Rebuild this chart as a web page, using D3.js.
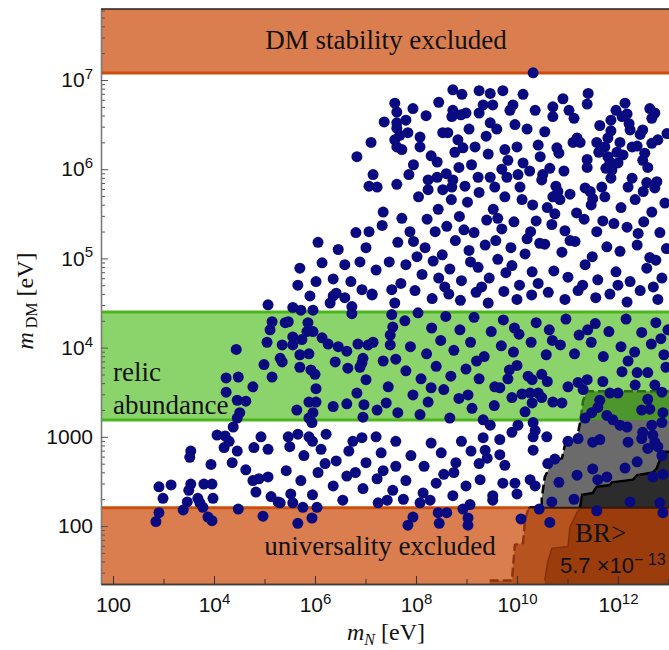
<!DOCTYPE html>
<html lang="en">
<head>
<meta charset="utf-8">
<title>D3: DM mass scan</title>
<script src="https://cdn.jsdelivr.net/npm/d3@7"></script>
<style>
  body { margin: 0; background: #fff; }
  .serif { font-family: "Liberation Serif", "Times New Roman", serif; fill: #111; }
  .sans { font-family: "Liberation Sans", Arial, sans-serif; fill: #111; }
</style>
</head>
<body>
<div id="chart"></div>
<script>
// limits on m_DM [eV]
const stabilityLimit = 1.2e7;
const relicBand = [1540, 25000];
const universalityLimit = 160;

// tick decades
const xLabelExps = [2, 4, 6, 8, 10, 12];
const xOtherExps = [3, 5, 7, 9, 11, 13];
const yLabelExps = [2, 3, 4, 5, 6, 7];

// contours, [log10 mN, log10 mDM]
const dashedContour = [
  [9.46,1.0],[9.46,1.39],[9.90,1.39],[9.92,1.53],[9.96,1.79],[10.12,1.81],[10.16,2.07],
  [10.22,2.18],[10.22,2.21],[10.49,2.21],[10.49,2.31],[10.55,2.55],[10.69,2.71],[10.89,2.76],
  [10.95,2.91],[11.19,2.99],[11.25,3.16],[11.31,3.41],[11.39,3.51],[13.6,3.51]
];
const brContour = [
  [10.55,1.0],[10.55,1.39],[10.61,1.60],[10.69,1.75],[11.01,1.77],[11.05,1.99],[11.19,2.15],
  [11.25,2.21],[11.29,2.35],[11.50,2.37],[11.58,2.44],[11.84,2.46],[11.88,2.49],[12.30,2.52],
  [12.38,2.57],[12.69,2.60],[12.77,2.65],[12.83,2.74],[12.87,2.83],[13.6,2.84]
];

// scan points, [log10 mN, log10 mDM]
const scanPoints = [
  [10.32,7.08],
  [8.73,6.89],[8.91,6.84],[9.25,6.88],[9.47,6.85],[9.72,6.88],[10.12,6.84],
  [7.58,6.74],[7.62,6.64],[7.94,6.68],[7.37,6.53],[7.62,6.52],[7.62,6.46],
  [8.73,6.66],[8.71,6.59],[8.89,6.61],[8.99,6.63],[9.25,6.63],[9.33,6.72],[9.52,6.72],[9.92,6.72],
  [9.86,6.66],[9.47,6.52],[9.96,6.50],[10.20,6.45],
  [7.11,6.30],[7.58,6.33],[7.68,6.38],[7.84,6.41],[8.08,6.36],[7.62,6.25],[7.72,6.22],[8.08,6.25],
  [8.53,6.41],[8.63,6.41],[8.83,6.33],[8.93,6.24],[9.17,6.25],[9.39,6.37],[8.77,6.19],[9.43,6.17],
  [9.76,6.22],[9.82,6.10],[10.12,6.07],[6.83,6.14],[8.42,6.08],[8.85,6.02],
  [7.15,5.94],[7.07,5.81],[7.23,5.80],[7.62,5.83],[7.86,5.94],[8.24,5.88],[8.42,5.91],[8.73,5.88],
  [8.71,5.80],[8.97,5.81],[9.23,5.91],[9.47,5.91],[9.56,5.80],[9.80,5.91],[10.02,5.94],[10.06,5.80],
  [8.24,5.77],[8.53,5.77],
  [7.80,6.55],[8.20,6.60],[8.45,6.75],[9.05,6.45],[9.60,6.45],[10.00,6.25],[8.30,6.15],[9.10,6.05],
  [9.70,6.00],[7.95,6.05],[8.60,5.95],[10.25,5.98],
  [11.41,6.85],[11.39,6.73],[10.91,6.79],[10.71,6.70],[10.71,6.59],[11.03,6.66],[11.13,6.57],
  [12.14,6.74],[11.96,6.66],[12.18,6.62],[12.08,6.59],[12.63,6.68],[12.73,6.63],[12.67,6.57],
  [11.86,6.55],[11.64,6.49],[12.22,6.51],[12.24,6.44],[11.86,6.43],[12.44,6.39],[12.49,6.44],
  [12.97,6.40],[10.55,6.42],[11.19,6.35],[11.25,6.30],[11.11,6.30],[11.58,6.30],[12.04,6.30],
  [11.80,6.35],[11.74,6.25],[11.62,6.19],[12.28,6.25],[12.38,6.26],[12.67,6.29],[12.79,6.33],
  [10.79,6.24],[10.83,6.18],[11.98,6.19],[12.10,6.16],[11.80,6.14],[11.39,6.11],[11.39,6.02],
  [11.84,6.08],[12.00,6.07],[12.53,6.18],[12.49,6.10],[12.59,6.02],[10.65,6.01],[10.93,5.98],
  [11.76,6.01],[11.88,5.99],[10.46,6.14],[10.51,5.94],[10.49,5.88],[10.77,5.81],[10.81,5.75],
  [11.86,5.90],[12.28,5.90],[12.20,5.80],[12.57,5.85],[12.77,5.86],[12.73,5.79],[11.35,5.79],
  [11.45,5.75],[11.68,5.80],[11.50,5.67],[10.71,5.69],[10.36,6.66],[10.42,6.27],
  [6.06,5.18],[6.46,5.10],[6.14,4.95],[6.59,4.93],[6.36,4.77],[6.02,4.74],[5.66,4.70],[5.90,4.58],
  [6.36,4.58],[6.71,4.74],[6.89,4.96],[7.01,5.12],[7.35,5.52],[7.33,5.37],[7.07,5.30],[7.64,5.18],
  [7.88,5.30],[6.81,5.29],[7.21,4.87],[7.47,4.96],[7.52,4.65],[7.13,4.59],[5.70,4.89],
  [8.05,5.69],[8.44,5.55],[8.70,5.66],[9.02,5.63],[9.25,5.74],[9.53,5.55],[9.76,5.69],[10.10,5.66],[10.31,5.60],
  [8.22,5.44],[8.61,5.36],[8.86,5.47],[9.15,5.29],[9.40,5.43],[9.70,5.33],[9.94,5.41],[10.27,5.30],
  [7.95,5.19],[8.18,5.12],[8.52,5.04],[8.78,5.20],[9.05,5.09],[9.37,5.15],[9.62,4.99],[9.88,5.12],[10.16,5.05],[10.45,5.17],
  [7.80,4.93],[8.12,4.82],[8.34,4.97],[8.67,4.88],[8.90,4.75],[9.23,4.90],[9.45,4.78],[9.78,4.84],[10.05,4.70],[10.30,4.85],
  [7.98,4.64],[8.32,4.55],[8.57,4.68],[8.88,4.53],[9.19,4.62],[9.43,4.50],[9.74,4.63],[10.00,4.54],[10.29,4.59],
  [7.72,5.45],[8.38,5.30],[8.95,5.32],[9.58,5.20],[10.20,5.22],[8.02,5.02],[8.65,4.60],[9.30,4.68],
  [9.90,4.92],[10.42,4.72],[8.45,4.78],[9.08,4.96],[9.62,5.45],[10.38,5.42],[7.70,4.72],
  [10.60,5.57],[10.85,5.66],[11.18,5.51],[11.47,5.60],[11.74,5.69],[12.06,5.57],[12.34,5.66],[12.67,5.52],[12.93,5.62],
  [10.69,5.38],[10.95,5.31],[11.33,5.44],[11.58,5.30],[11.92,5.39],[12.18,5.35],[12.51,5.41],[12.83,5.29],
  [10.55,5.16],[10.89,5.07],[11.15,5.19],[11.49,5.02],[11.78,5.13],[12.04,5.08],[12.38,5.15],[12.63,5.01],[12.96,5.11],
  [10.73,4.86],[11.01,4.79],[11.35,4.93],[11.60,4.76],[11.96,4.85],[12.24,4.74],[12.57,4.89],[12.87,4.78],
  [10.62,4.62],[10.95,4.54],[11.21,4.64],[11.56,4.56],[11.84,4.60],[12.18,4.51],[12.44,4.64],[12.79,4.54],
  [10.75,5.50],[11.05,5.20],[11.70,5.42],[12.40,5.28],[12.75,4.98],[11.30,4.70],[12.00,4.70],[12.70,4.68],
  [11.05,5.72],[12.50,5.75],
  [5.07,4.48],[5.56,4.45],[5.72,4.42],[5.96,4.42],[6.30,4.50],[6.42,4.61],[6.59,4.56],[6.73,4.46],
  [6.73,4.38],[6.93,4.65],[7.13,4.60],[7.58,4.50],[7.52,4.37],
  [5.15,4.29],[5.11,4.20],[5.41,4.28],[5.47,4.29],[5.86,4.28],[5.84,4.18],[5.96,4.18],[5.56,4.12],
  [5.74,4.09],[5.56,4.03],[5.35,4.03],[5.05,4.06],[6.14,4.11],[6.26,4.04],[6.46,4.01],[6.63,3.96],
  [6.85,4.04],[7.05,4.03],[7.15,4.06],[7.49,4.14],[7.54,4.23],[7.49,4.03],
  [4.44,3.98],[5.31,3.88],[5.35,3.84],[5.70,3.92],[5.88,3.93],[6.40,3.84],[6.95,3.88],[6.93,3.83],
  [6.89,3.78],[6.65,3.77],[7.35,3.85],[7.60,3.87],
  [4.99,3.81],[5.70,3.78],[5.92,3.75],[6.00,3.70],[5.15,3.67],[4.24,3.66],[4.48,3.67],[4.77,3.56],
  [4.24,3.50],[7.01,3.64],[7.45,3.56],[6.02,3.54],[6.83,3.49],[4.46,3.41],[4.63,3.40],[5.88,3.39],
  [6.02,3.39],[5.64,3.30],[6.36,3.34],[6.63,3.37],[6.97,3.36],[7.23,3.30],[7.41,3.38],[7.64,3.27],
  [4.51,3.27],[4.46,3.21],[5.96,3.27],[5.88,3.21],[6.95,3.22],[4.38,3.11],[5.94,3.16],
  [4.06,3.02],[4.22,3.01],[4.93,3.00],[5.47,3.00],[5.66,3.03],[5.88,3.00],[6.22,3.03],[6.93,2.99],[7.21,3.00],
  [7.78,4.30],[8.04,4.39],[8.31,4.22],[8.59,4.35],[8.87,4.20],[9.15,4.34],[9.49,4.18],[9.73,4.31],
  [10.04,4.15],[10.38,4.28],[10.64,4.20],[10.97,4.32],[11.23,4.14],[11.55,4.27],[11.82,4.18],[12.16,4.32],
  [12.47,4.17],[12.75,4.28],[12.99,4.20],
  [7.89,4.01],[8.21,3.93],[8.49,4.08],[8.75,3.97],[9.08,4.06],[9.35,3.90],[9.69,4.02],[9.93,3.95],
  [10.28,4.06],[10.58,3.92],[10.86,4.03],[11.14,3.93],[11.47,4.06],[11.71,3.90],[12.06,4.01],[12.33,3.95],
  [12.66,4.04],[12.91,3.92],
  [9.95,4.22],[10.70,4.08],[11.40,4.20],[12.20,3.85],[12.85,4.10],[9.20,3.85],[10.00,3.80],[10.60,3.62],
  [11.70,3.62],[12.95,3.78],[8.30,3.55],[9.55,3.35],[9.85,3.75],
  [7.80,3.74],[8.10,3.65],[8.40,3.79],[8.69,3.68],[8.99,3.76],[9.25,3.65],[7.94,3.47],[8.24,3.39],
  [8.55,3.53],[8.85,3.43],[9.11,3.32],[8.08,3.25],[8.67,3.21],[9.03,3.47],
  [9.82,3.65],[10.22,3.68],[10.49,3.70],[10.30,3.64],[9.56,3.56],[9.66,3.55],[9.90,3.44],[10.10,3.48],
  [10.26,3.49],[10.42,3.49],[10.30,3.38],[10.16,3.28],[10.49,3.44],[10.71,3.39],[10.89,3.38],[11.01,3.56],
  [11.21,3.61],[11.31,3.53],[11.39,3.64],[12.08,3.73],[12.38,3.72],[12.59,3.72],[12.34,3.58],[12.73,3.58],
  [12.87,3.50],[11.84,3.49],[12.00,3.49],[11.64,3.41],[11.60,3.33],[11.48,3.27],[11.35,3.21],[11.78,3.24],
  [11.90,3.19],[12.04,3.13],[12.18,3.11],[12.47,3.30],[12.59,3.42],[12.63,3.31],[12.89,3.27],[12.87,3.16],
  [12.67,3.13],[12.49,3.05],[12.47,2.98],[12.69,3.02],[12.73,2.94],[12.79,2.89],[12.87,2.79],[12.59,2.87],
  [12.20,2.94],[12.38,2.72],[12.14,2.65],[12.69,2.55],[12.89,2.58],[11.50,2.94],[11.64,2.97],[11.50,2.64],
  [11.78,2.55],[11.60,2.52],[11.19,2.57],[10.83,2.49],[10.69,2.27],[11.13,2.30],[12.24,2.27],[12.83,2.26],
  [11.58,2.17],[10.44,2.19],[10.08,2.08],[10.65,2.04],
  [9.33,3.19],[9.47,3.13],[10.02,3.13],[10.32,3.16],[10.36,3.07],[10.32,3.00],[9.90,3.05],[9.66,2.97],
  [10.59,3.00],[9.33,2.99],[9.37,2.85],[9.41,2.76],[9.66,2.80],[9.76,2.68],[10.32,2.85],[10.75,2.75],
  [10.61,2.70],[9.96,2.48],[9.72,2.48],[10.26,2.52],[10.36,2.45],[10.00,2.36],[9.52,2.34],[9.27,2.52],
  [11.01,2.95],[11.21,2.98],
  [4.30,2.95],[4.20,2.88],[4.46,2.84],[4.79,2.88],[5.07,2.86],[3.54,2.84],[3.52,2.77],[3.94,2.69],
  [4.36,2.71],[4.63,2.63],[4.77,2.51],[4.89,2.53],[5.07,2.55],[4.83,2.38],[5.13,2.33],[5.27,2.27],
  [2.91,2.44],[3.15,2.46],[3.54,2.47],[3.50,2.40],[3.80,2.47],[3.96,2.47],[2.99,2.31],[3.98,2.31],
  [3.68,2.31],[3.47,2.27],[3.72,2.26],[3.78,2.21],[3.39,2.18],[2.91,2.15],[4.48,2.19],[3.88,2.10],
  [4.97,2.11],[2.85,2.05],[3.96,2.06],
  [5.50,2.89],[5.78,2.79],[6.12,2.86],[6.42,2.73],[6.67,2.84],[7.01,2.71],[7.31,2.82],[7.60,2.67],
  [7.90,2.79],[8.16,2.67],[8.50,2.82],[8.79,2.71],[9.09,2.84],[5.43,2.62],[5.72,2.51],[6.06,2.60],
  [6.36,2.45],[6.63,2.56],[6.95,2.42],[7.23,2.53],[7.54,2.40],[7.80,2.51],[8.14,2.37],[8.40,2.48],
  [8.73,2.34],[8.99,2.45],[5.52,2.36],[6.55,2.29],[7.43,2.29],
  [5.95,2.95],[6.75,2.95],[7.60,2.95],[8.30,2.93],[8.90,2.95],[6.20,2.70],[7.35,2.62],[8.55,2.58],
  [6.80,2.60],[5.95,2.35],[7.75,2.30],[8.75,2.60],[9.25,2.70],
  [5.66,2.03],[5.94,2.09],[6.04,2.21],[5.76,2.21],[5.56,2.26],[5.31,2.26],[7.25,2.26],[7.84,2.01],
  [7.94,2.10],[8.08,2.26],[8.28,2.29],[8.46,2.03],[8.44,2.15],[8.61,2.15],[8.93,2.19],[9.07,2.24],
  [9.03,2.09],[9.03,2.01],[9.52,2.29],[12.89,2.15]
];

const W = 669, H = 650;
const plot = { left: 101, right: 672, top: 9, bottom: 584 };

const x = d3.scaleLog()
  .domain([Math.pow(10, 1.762), Math.pow(10, 13.07)])
  .range([plot.left, plot.right]);
const y = d3.scaleLog()
  .domain([Math.pow(10, 1.35), Math.pow(10, 7.796)])
  .range([plot.bottom, plot.top]);

const svg = d3.select("#chart").append("svg")
  .attr("width", W).attr("height", H)
  .style("display", "block");

const defs = svg.append("defs");
function clipRect(id, y0, y1) {
  defs.append("clipPath").attr("id", id).append("rect")
    .attr("x", plot.left).attr("y", y0)
    .attr("width", plot.right - plot.left).attr("height", y1 - y0);
}
clipRect("clip-plot", plot.top, plot.bottom);
clipRect("clip-white", y(relicBand[0]), y(universalityLimit));
clipRect("clip-green", y(relicBand[1]), y(relicBand[0]));
clipRect("clip-below", y(universalityLimit), plot.bottom);

const g = svg.append("g").attr("clip-path", "url(#clip-plot)");

// bands
function band(lo, hi, fill) {
  g.append("rect")
    .attr("x", plot.left).attr("width", plot.right - plot.left)
    .attr("y", y(hi)).attr("height", y(lo) - y(hi))
    .attr("fill", fill);
}
band(stabilityLimit, 1e9, "#db7e4f");
band(relicBand[0], relicBand[1], "#8bd46b");
band(1, universalityLimit, "#db7e4f");

function hline(v, color, w) {
  g.append("line")
    .attr("x1", plot.left).attr("x2", plot.right)
    .attr("y1", y(v)).attr("y2", y(v))
    .attr("stroke", color).attr("stroke-width", w);
}
hline(stabilityLimit, "#cc4e0e", 3);
hline(relicBand[0], "#4db51e", 3);
hline(relicBand[1], "#4db51e", 3);
hline(universalityLimit, "#cc4e0e", 3);

// exclusion contours
const line = d3.line().x(d => x(Math.pow(10, d[0]))).y(d => y(Math.pow(10, d[1])));
const outline = pts => line(pts.concat([[13.6, 1.0]])) + "Z";
const edge = pts => line(pts.slice(1));

function region(pts, parts) {
  parts.forEach(p => {
    g.append("g").attr("clip-path", `url(#${p.clip})`)
      .append("path").attr("d", outline(pts)).attr("fill", p.fill);
  });
}
function regionEdge(pts, parts) {
  parts.forEach(p => {
    g.append("g").attr("clip-path", `url(#${p.clip})`)
      .append("path").attr("d", edge(pts))
      .attr("fill", "none").attr("stroke", p.stroke)
      .attr("stroke-width", p.width)
      .attr("stroke-dasharray", p.dash || null);
  });
}

region(dashedContour, [
  { clip: "clip-white", fill: "#6b6b6b" },
  { clip: "clip-green", fill: "#4d962b" },
  { clip: "clip-below", fill: "#b6531e" }
]);
region(brContour, [
  { clip: "clip-white", fill: "#2c2c2c" },
  { clip: "clip-below", fill: "#9b3c0c" }
]);
// universality line where it crosses the contours
defs.append("clipPath").attr("id", "clip-dashed").append("path").attr("d", outline(dashedContour));
g.append("g").attr("clip-path", "url(#clip-dashed)")
  .append("line")
  .attr("x1", plot.left).attr("x2", plot.right)
  .attr("y1", y(universalityLimit)).attr("y2", y(universalityLimit))
  .attr("stroke", "#3a1606").attr("stroke-width", 2);

regionEdge(dashedContour, [
  { clip: "clip-white", stroke: "#000", width: 2.5, dash: "9,4" },
  { clip: "clip-green", stroke: "#2c6a12", width: 2.5, dash: "9,4" },
  { clip: "clip-below", stroke: "#8a3410", width: 2.5, dash: "9,4" }
]);
regionEdge(brContour, [
  { clip: "clip-white", stroke: "#000", width: 2.5 },
  { clip: "clip-below", stroke: "#83300a", width: 1.5 }
]);

// scan points
g.append("g").selectAll("circle")
  .data(scanPoints)
  .join("circle")
  .attr("cx", d => x(Math.pow(10, d[0])))
  .attr("cy", d => y(Math.pow(10, d[1])))
  .attr("r", 5.5)
  .attr("fill", "#0a0a80");

// region labels
function label(txt, px, py, anchor) {
  return svg.append("text").attr("class", "serif")
    .attr("x", px).attr("y", py)
    .attr("font-size", 27)
    .attr("text-anchor", anchor || "start")
    .text(txt);
}
label("DM stability excluded", 386, 49, "middle");
label("relic", 113, 381);
label("abundance", 113, 414);
label("universality excluded", 380, 555, "middle");
label("BR>", 575, 542);
const br = svg.append("text").attr("class", "sans")
  .attr("x", 560).attr("y", 573).attr("font-size", 22)
  .text("5.7 \u00d710");
br.append("tspan").attr("dy", "-0.5em").attr("font-size", 16).text("\u2212 13");

// axes
function decadeLabel(sel) {
  sel.each(function(d) {
    const e = Math.round(Math.log10(d));
    const t = d3.select(this).text(null);
    if (e < 4) { t.text(String(Math.pow(10, e))); }
    else {
      t.append("tspan").text("10");
      t.append("tspan").attr("dy", "-0.55em").attr("font-size", 15).text(e);
    }
  });
}

const yMinor = [];
for (let e = 1; e <= 7; e++) for (let k = 2; k <= 9; k++) yMinor.push(k * Math.pow(10, e));
const yAxisMinor = svg.append("g").attr("transform", `translate(${plot.left},0)`)
  .call(d3.axisLeft(y).tickValues(yMinor.filter(v => v < y.domain()[1] && v > y.domain()[0]))
    .tickSize(-4).tickSizeOuter(0).tickFormat(""));
const yAxis = svg.append("g").attr("transform", `translate(${plot.left},0)`)
  .call(d3.axisLeft(y).tickValues(yLabelExps.map(e => Math.pow(10, e)))
    .tickSize(-7).tickSizeOuter(0).tickPadding(8));
yAxis.selectAll(".tick text").attr("class", "sans").attr("font-size", 21).attr("dy", "0.32em").call(decadeLabel);

const xAxisMinor = svg.append("g").attr("transform", `translate(0,${plot.bottom})`)
  .call(d3.axisBottom(x).tickValues(xOtherExps.map(e => Math.pow(10, e)))
    .tickSize(-5).tickSizeOuter(0).tickFormat(""));
const xAxis = svg.append("g").attr("transform", `translate(0,${plot.bottom})`)
  .call(d3.axisBottom(x).tickValues(xLabelExps.map(e => Math.pow(10, e)))
    .tickSize(-8).tickSizeOuter(0).tickPadding(13));
xAxis.selectAll(".tick text").attr("class", "sans").attr("font-size", 21).call(decadeLabel);

[yAxisMinor, yAxis].forEach(a => {
  a.selectAll(".tick line").attr("stroke", "#555").attr("stroke-width", 1);
  a.select(".domain").attr("stroke", "#7a7a7a").attr("stroke-width", 1.3);
});
[xAxisMinor, xAxis].forEach(a => {
  a.selectAll(".tick line").attr("stroke", "#333").attr("stroke-width", 1);
  a.select(".domain").attr("stroke", "#3c3c3c").attr("stroke-width", 1.5);
});
svg.selectAll(".tick text").attr("fill", "#111").attr("font-family", null);

// top frame
svg.append("line")
  .attr("x1", plot.left).attr("x2", W)
  .attr("y1", plot.top).attr("y2", plot.top)
  .attr("stroke", "#222").attr("stroke-width", 1.5);

// axis titles
const xt = svg.append("text").attr("class", "serif")
  .attr("x", 386).attr("y", 640).attr("text-anchor", "middle").attr("font-size", 24);
xt.append("tspan").attr("font-style", "italic").text("m");
xt.append("tspan").attr("font-style", "italic").attr("font-size", 16).attr("dy", 5).text("N");
xt.append("tspan").attr("dy", -5).text(" [eV]");

const yt = svg.append("text").attr("class", "serif")
  .attr("transform", "translate(33,301) rotate(-90)")
  .attr("text-anchor", "middle").attr("font-size", 24);
yt.append("tspan").attr("font-style", "italic").text("m");
yt.append("tspan").attr("font-size", 16).attr("dy", 4).text(" DM");
yt.append("tspan").attr("dy", -4).text(" [eV]");
</script>
</body>
</html>
